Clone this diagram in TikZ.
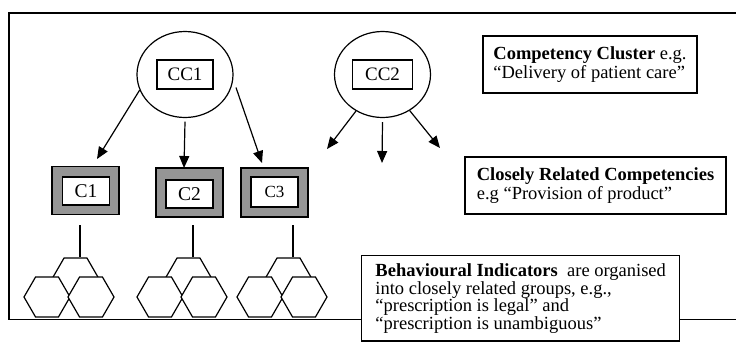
\documentclass[tikz,border=0pt]{standalone}
\usepackage{fontspec}
\setmainfont{Liberation Serif}
\usetikzlibrary{arrows.meta,positioning,shapes.geometric}
\definecolor{cgray}{HTML}{959595}

\begin{document}
\begin{tikzpicture}[x=1pt,y=-1pt,>={Triangle[length=12pt,width=10pt]},line width=1.2pt,
  lab/.style={draw,fill=white,inner sep=0pt,minimum height=29pt,font=\fontsize{19}{19}\selectfont},
  cc/.style={draw,ellipse,minimum width=96pt,minimum height=86pt,inner sep=0pt},
  cout/.style={draw,fill=cgray,line width=1.4pt,minimum width=67pt,minimum height=48pt,inner sep=0pt},
  cin/.style={draw,fill=white,line width=1.4pt,minimum width=47pt,minimum height=28pt,inner sep=0pt,font=\fontsize{19.5}{19}\selectfont},
  note/.style={draw,fill=white,align=left,line width=1.4pt,font=\fontsize{18.5}{19}\selectfont},
  hexa/.style={draw,fill=white,regular polygon,regular polygon sides=6,minimum size=46pt,inner sep=0pt}]
\path[use as bounding box] (0,0) rectangle (736,341);
\clip (0,0) rectangle (736,341);
% frame
\draw[line width=1.4pt] (745,13) -- (9,13) -- (9,319.5) -- (745,319.5);
% clusters
\node[cc] (cc1) at (185,74.5) {};
\node[lab,minimum width=56pt] (cc1b) at (cc1) {CC1};
\node[cc] (cc2) at (382.5,74.5) {};
\node[lab,minimum width=60pt] (cc2b) at (cc2) {CC2};
% competencies
\node[cout] (c1o) at (85.5,190.5) {};
\node[cin] (c1) at (86,191) {C1};
\node[cout,minimum height=49pt] (c2o) at (189.5,192.5) {};
\node[cin] (c2) at (189.5,194) {C2};
\node[cout,minimum height=49pt] (c3o) at (274.5,192.5) {};
\node[cin,minimum height=30pt,font=\fontsize{17}{17}\selectfont] (c3) at (274.5,192) {C3};
% arrows
\coordinate (t11) at (97,159);
\coordinate (t12) at (184,168);
\coordinate (t13) at (262,163);
\coordinate (t21) at (327,149);
\coordinate (t22) at (382,163);
\coordinate (t23) at (440,148);
\draw[->] (cc1.199) -- (t11);
\draw[->] ([yshift=-3.5pt]cc1.south) -- (t12);
\draw[->] ([shift={(5pt,1pt)}]cc1.-17) -- (t13);
\draw[->] (cc2.234) -- (t21);
\draw[->] ([yshift=-4pt]cc2.south) -- (t22);
\draw[->] (cc2.-53) -- (t23);
% behavioural groups
\foreach \n/\x in {1/80,2/193,3/293}{
  \node[hexa] (h\n) at (\x-4.5,278) {};
  \node[hexa] (h\n l) at (\x-33,297) {};
  \node[hexa] (h\n r) at (\x+11,297) {};
  \coordinate (l\n) at (\x,225);
  \draw (l\n) -- (l\n |- h\n.north);
}
% notes
\node[note,minimum width=214pt,minimum height=57pt] (ncc) at (590,64.5)
  {\textbf{Competency Cluster} e.g.\\``Delivery of patient care''};
\node[note,minimum width=261pt,minimum height=57pt] (ncr) at (595.5,185.5)
  {\textbf{Closely Related Competencies}\\e.g ``Provision of product''};
\node[note,anchor=north west,minimum width=318pt,inner ysep=8pt,font=\fontsize{18.5}{17.5}\selectfont] (nbi) at (361,255)
  {\textbf{Behavioural Indicators}\ \ are organised\\into closely related groups, e.g.,\\``prescription is legal'' and\\``prescription is unambiguous''};
\end{tikzpicture}
\end{document}
